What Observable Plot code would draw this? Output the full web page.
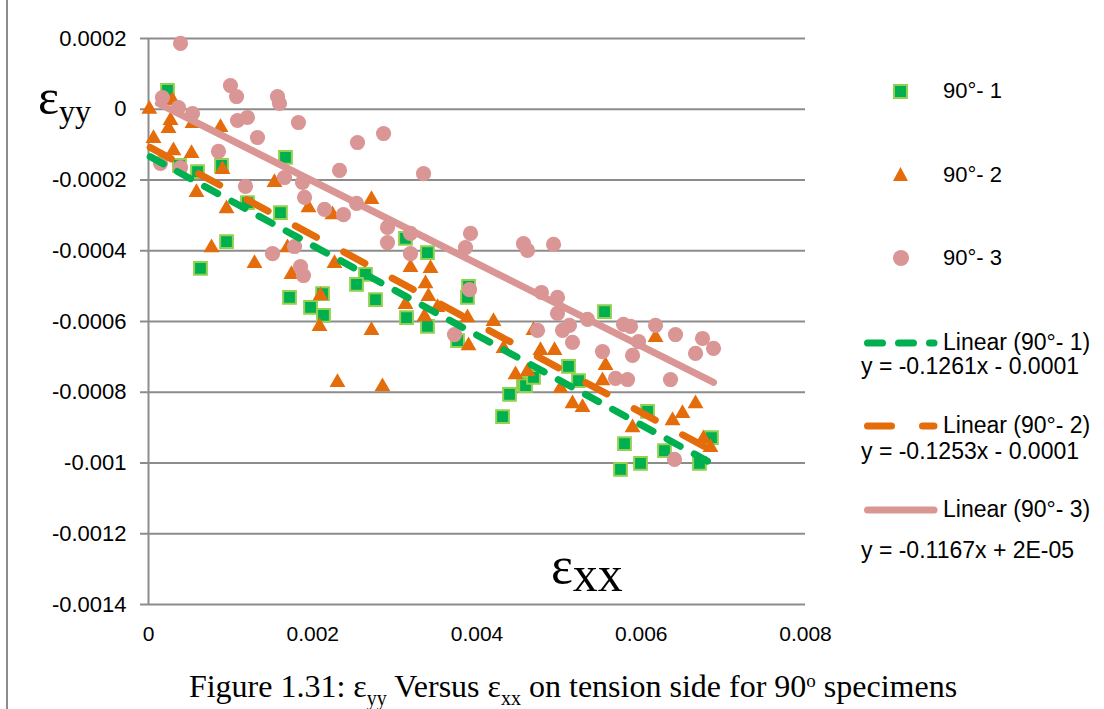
<!DOCTYPE html>
<html>
<head>
<meta charset="utf-8">
<script src="https://cdn.jsdelivr.net/npm/d3@7"></script>
<script src="https://cdn.jsdelivr.net/npm/@observablehq/plot@0.6"></script>
<style>
  html, body { margin: 0; padding: 0; background: #fff; }
  #wrap { position: relative; width: 1104px; height: 709px; overflow: hidden; background: #fff; }
  .lg { position: absolute; font-family: "Liberation Sans", Arial, sans-serif; font-size: 22px; color: #000; white-space: nowrap; line-height: 1; }
  .serif { position: absolute; font-family: "Liberation Serif", "Times New Roman", serif; color: #000; white-space: nowrap; line-height: 1; }
</style>
</head>
<body>
<div id="wrap"></div>
<script>
// ---- tick values and labels ----
const xTickVals = [0, 0.002, 0.004, 0.006, 0.008];
const xTickLabels = ["0", "0.002", "0.004", "0.006", "0.008"];
const yTickVals = [0.0002, 0, -0.0002, -0.0004, -0.0006, -0.0008, -0.001, -0.0012, -0.0014];
const yTickLabels = ["0.0002", "0", "-0.0002", "-0.0004", "-0.0006", "-0.0008", "-0.001", "-0.0012", "-0.0014"];

// ---- series names ----
const seriesNames = ["90°- 1", "90°- 2", "90°- 3"];
const trendNames = ["Linear (90°- 1)", "Linear (90°- 2)", "Linear (90°- 3)"];
const equations = ["y = -0.1261x - 0.0001", "y = -0.1253x - 0.0001", "y = -0.1167x + 2E-05"];

// ---- series 90°- 1 (green squares) ----
const s1x = [0.000231,0.001668,0.000377,0.000597,0.000889,0.001205,0.001607,0.000950,0.000633,0.001717,0.002119,0.001973,0.002131,0.003129,0.003397,0.002642,0.002533,0.002764,0.003142,0.003397,0.003897,0.003884,0.003763,0.004396,0.004311,0.004566,0.005553,0.005114,0.005236,0.004591,0.004688,0.006076,0.005796,0.006283,0.005991,0.005747,0.006709,0.006855];
const s1y = [0.000053,-0.000136,-0.000159,-0.000176,-0.000159,-0.000264,-0.000292,-0.000374,-0.000450,-0.000532,-0.000521,-0.000560,-0.000583,-0.000365,-0.000405,-0.000467,-0.000495,-0.000538,-0.000589,-0.000614,-0.000501,-0.000532,-0.000654,-0.000806,-0.000869,-0.000775,-0.000572,-0.000727,-0.000767,-0.000781,-0.000758,-0.000854,-0.000945,-0.000965,-0.001001,-0.001018,-0.001001,-0.000928];

// ---- series 90°- 2 (orange triangles) ----
const s2x = [0.00001,0.000292,0.000268,0.000244,0.000536,0.000877,0.000061,0.000304,0.000524,0.000901,0.001534,0.000584,0.001948,0.000950,0.002240,0.000767,0.001291,0.001741,0.002094,0.002082,0.002301,0.001693,0.002265,0.002715,0.003190,0.003434,0.003373,0.003409,0.003129,0.003519,0.003361,0.002715,0.003884,0.004201,0.003897,0.004323,0.004469,0.004615,0.002849,0.004688,0.004773,0.004944,0.005565,0.005528,0.006174,0.005017,0.005163,0.005285,0.005894,0.006381,0.006502,0.006661,0.006758,0.006843];
const s2y = [0,0.0000247,-0.0000318,-0.0000544,-0.0000403,-0.0000516,-0.0000827,-0.000117,-0.000125,-0.000170,-0.000207,-0.000235,-0.000278,-0.000281,-0.000298,-0.000391,-0.000436,-0.000467,-0.000527,-0.000614,-0.000772,-0.000391,-0.000436,-0.000255,-0.000447,-0.000450,-0.000493,-0.000529,-0.000552,-0.000560,-0.000586,-0.000625,-0.000589,-0.000600,-0.000668,-0.000676,-0.000750,-0.000741,-0.000784,-0.000625,-0.000682,-0.000682,-0.000724,-0.000767,-0.000645,-0.000789,-0.000832,-0.000843,-0.000900,-0.000880,-0.000860,-0.000832,-0.000931,-0.000956];

// ---- series 90°- 3 (pink circles) ----
const s3x = [0.000170,0.000390,0.000365,0.000536,0.000998,0.001072,0.001571,0.001595,0.001084,0.001205,0.001826,0.001327,0.000852,0.000146,0.000390,0.002326,0.001656,0.001875,0.001181,0.001900,0.002143,0.002545,0.002862,0.003349,0.002533,0.002374,0.002910,0.002910,0.003190,0.003190,0.003921,0.003860,0.004566,0.004615,0.003909,0.003726,0.001510,0.001778,0.001851,0.001887,0.004932,0.004785,0.004980,0.004980,0.004737,0.005041,0.005126,0.005163,0.005346,0.005528,0.005784,0.005869,0.005894,0.005967,0.006174,0.006417,0.006746,0.006661,0.006880,0.005687,0.005833,0.006356,0.006405];
const s3y = [0.0000332,0.000186,0.0000049,-0.000012,0.0000671,0.000036,0.000036,0.0000163,-0.0000318,-0.0000233,-0.0000375,-0.0000799,-0.000119,-0.000153,-0.000165,-0.000173,-0.000193,-0.000207,-0.000218,-0.000249,-0.000283,-0.000094,-0.0000686,-0.000182,-0.000266,-0.000298,-0.000334,-0.000377,-0.000351,-0.000408,-0.000351,-0.000391,-0.000380,-0.000399,-0.000510,-0.000637,-0.000408,-0.000388,-0.000445,-0.000470,-0.000382,-0.000518,-0.000532,-0.000577,-0.000625,-0.000625,-0.000611,-0.000659,-0.000594,-0.000685,-0.000608,-0.000614,-0.000696,-0.000657,-0.000611,-0.000637,-0.000648,-0.000690,-0.000676,-0.000761,-0.000764,-0.000764,-0.000990];

// ---- linear trendline end points ----
const trend1x = [0.00002, 0.00688];
const trend1y = [-0.000134, -0.001004];
const trend2x = [0.00002, 0.00690];
const trend2y = [-0.000108, -0.000970];
const trend3x = [0.00012, 0.00688];
const trend3y = [0.0000163, -0.000772];

const colors = { green: "#00b050", greenEdge: "#92d050", orange: "#e46c0a", pink: "#d99694" };

const pts = (xs, ys) => xs.map((x, i) => ({ x, y: ys[i] }));
const d1 = pts(s1x, s1y), d2 = pts(s2x, s2y), d3p = pts(s3x, s3y);
const t1 = pts(trend1x, trend1y), t2 = pts(trend2x, trend2y), t3 = pts(trend3x, trend3y);

const gray = "#8c8c8c";

const chart = Plot.plot({
  width: 1104,
  height: 660,
  marginLeft: 148,
  marginRight: 299,
  marginTop: 38,
  marginBottom: 56,
  style: { fontFamily: "'Liberation Sans', Arial, sans-serif", fontSize: "21px", color: "#000", background: "transparent", overflow: "visible" },
  x: { domain: [0, 0.008] },
  y: { domain: [-0.0014, 0.0002] },
  marks: [
    Plot.gridY(yTickVals, { stroke: gray, strokeOpacity: 1, strokeWidth: 2 }),
    Plot.axisY({ ticks: yTickVals, tickSize: 8, tickPadding: 14, stroke: gray, strokeWidth: 2, fontSize: 22,
      tickFormat: d => yTickLabels[yTickVals.indexOf(d)], label: null }),
    Plot.axisX({ ticks: xTickVals, tickSize: 0, tickPadding: 22, fontSize: 21,
      tickFormat: d => xTickLabels[xTickVals.indexOf(d)], label: null }),
    Plot.ruleX([0], { stroke: gray, strokeWidth: 2 }),
    Plot.dot(d1, { x: "x", y: "y", symbol: "square", r: 7.2, fill: colors.green, stroke: colors.greenEdge, strokeWidth: 2 }),
    Plot.dot(d2, { x: "x", y: "y", symbol: "triangle", r: 5.9, fill: colors.orange, stroke: "none" }),
    Plot.dot(d3p, { x: "x", y: "y", symbol: "circle", r: 7.6, fill: colors.pink, stroke: "none" }),
    Plot.line(t1, { x: "x", y: "y", stroke: colors.green, strokeWidth: 7, strokeDasharray: "15,16", strokeLinecap: "round" }),
    Plot.line(t2, { x: "x", y: "y", stroke: colors.orange, strokeWidth: 7, strokeDasharray: "24,31", strokeLinecap: "round" }),
    Plot.line(t3, { x: "x", y: "y", stroke: colors.pink, strokeWidth: 7, strokeLinecap: "round" })
  ]
});
const wrap = document.getElementById("wrap");
chart.style.position = "absolute";
chart.style.left = "0px";
chart.style.top = "0px";
wrap.appendChild(chart);

// ---- frame line on the left ----
const frame = document.createElement("div");
frame.style.cssText = "position:absolute;left:6px;top:0;width:2px;height:709px;background:#8c8c8c;";
wrap.appendChild(frame);

// ---- legend ----
function addEl(html, style, cls) {
  const el = document.createElement("div");
  el.className = cls || "lg";
  el.style.cssText = style;
  el.innerHTML = html;
  wrap.appendChild(el);
  return el;
}
const markerY = [91, 175, 258];
// square
addEl("", `position:absolute;left:893px;top:${markerY[0]-7}px;width:11px;height:11px;background:${colors.green};border:2px solid ${colors.greenEdge};`, "x");
// triangle
addEl("", `position:absolute;left:893px;top:${markerY[1]-8}px;width:15px;height:14px;background:${colors.orange};clip-path:polygon(50% 0,100% 100%,0 100%);`, "x");
// circle
addEl("", `position:absolute;left:893px;top:${markerY[2]-8}px;width:16px;height:16px;border-radius:50%;background:${colors.pink};`, "x");
seriesNames.forEach((n, i) => addEl(n, `left:943px;top:${markerY[i]-11}px;`));

const lineY = [343, 426, 510];
const eqY = [367, 452, 551];
const lineStyles = [
  { stroke: colors.green, dash: "15,16" },
  { stroke: colors.orange, dash: "24,31" },
  { stroke: colors.pink, dash: null }
];
lineStyles.forEach((s, i) => {
  const svgNS = "http://www.w3.org/2000/svg";
  const sv = document.createElementNS(svgNS, "svg");
  sv.setAttribute("width", "84");
  sv.setAttribute("height", "14");
  sv.style.cssText = `position:absolute;left:858px;top:${lineY[i]-7}px;`;
  const ln = document.createElementNS(svgNS, "line");
  ln.setAttribute("x1", "9.5"); ln.setAttribute("x2", "76");
  ln.setAttribute("y1", "7"); ln.setAttribute("y2", "7");
  ln.setAttribute("stroke", s.stroke);
  ln.setAttribute("stroke-width", "7");
  ln.setAttribute("stroke-linecap", "round");
  if (s.dash) ln.setAttribute("stroke-dasharray", s.dash);
  sv.appendChild(ln);
  wrap.appendChild(sv);
  addEl(trendNames[i], `left:943px;top:${lineY[i]-12}px;font-size:23px;`);
  addEl(equations[i], `left:861px;top:${eqY[i]-12}px;font-size:23px;`);
});

// ---- axis titles ----
addEl('ε<span style="font-size:32px;position:relative;top:8px;">yy</span>', "left:38px;top:72px;font-size:50px;", "serif");
addEl('ε<span style="font-size:50px;position:relative;top:8px;">xx</span>', "left:551px;top:540px;font-size:52px;", "serif");

// ---- caption ----
addEl('Figure 1.31: ε<sub style="font-size:20px;vertical-align:-8px;">yy</sub> Versus ε<sub style="font-size:20px;vertical-align:-8px;">xx</sub> on tension side for 90<sup style="font-size:19px;vertical-align:10px;">o</sup> specimens',
  "left:0;width:1146px;text-align:center;top:670px;font-size:32px;", "serif");
</script>
</body>
</html>
